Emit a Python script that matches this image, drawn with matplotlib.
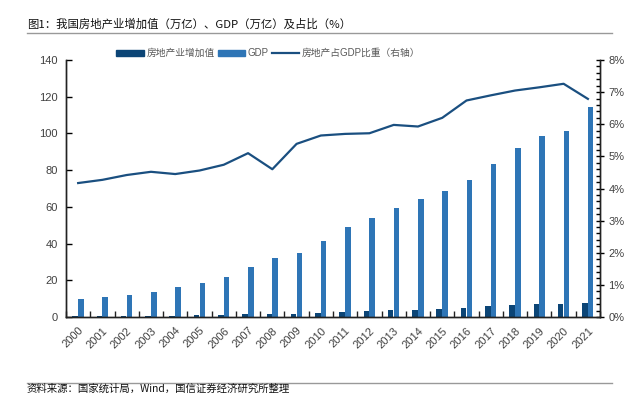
#!/usr/bin/python3

import numpy as np
from matplotlib import pyplot as plt
from matplotlib.lines import Line2D
from matplotlib.patches import Patch
from matplotlib.ticker import MultipleLocator, FixedLocator, PercentFormatter

plt.rcParams['font.family'] = ['Liberation Sans', 'Noto Sans CJK SC', 'DejaVu Sans']

years = [str(y) for y in range(2000, 2022)]
# 房地产业增加值 (万亿)
re_value = [0.41, 0.47, 0.54, 0.62, 0.72, 0.85, 1.04, 1.38, 1.47, 1.89, 2.33,
            2.78, 3.10, 3.57, 3.83, 4.27, 5.03, 5.78, 6.49, 7.07, 7.36, 7.77]
# GDP (万亿)
gdp = [10.0, 11.1, 12.2, 13.7, 16.2, 18.7, 21.9, 27.0, 31.9, 34.9, 41.2,
       48.8, 53.9, 59.3, 64.4, 68.9, 74.6, 83.2, 91.9, 98.7, 101.4, 114.4]
# 房地产占GDP比重 (%)
share = [4.17, 4.27, 4.42, 4.52, 4.45, 4.56, 4.74, 5.10, 4.60, 5.39, 5.65,
         5.70, 5.72, 5.98, 5.93, 6.20, 6.74, 6.90, 7.05, 7.15, 7.26, 6.79]

dark = '#0c4576'
blue = '#2e75b6'
line_c = '#1a4f80'
txt = '#404040'
cjk = ['Noto Sans CJK SC', 'DejaVu Sans']

fig = plt.figure(figsize=(6.39, 3.94), dpi=100)
ax = fig.add_axes([0.1033, 0.1954, 0.8357, 0.6523])
ax2 = ax.twinx()

x = np.arange(len(years))
w = 0.23
ax.bar(x - 0.125, re_value, w, color=dark, zorder=2)
ax.bar(x + 0.115, gdp, w, color=blue, zorder=2)
ax2.plot(x, share, color=line_c, linewidth=1.6)

ax.set_xlim(-0.5, len(years) - 0.5)
ax.set_ylim(0, 140)
ax2.set_ylim(0, 8)

ax.set_yticks(np.arange(0, 141, 20))
ax.set_xticks(x)
ax.set_xticklabels(years, rotation=45, ha='right', rotation_mode='anchor')
ax.xaxis.set_minor_locator(FixedLocator(np.arange(-0.5, len(years), 1)))
ax.tick_params(axis='x', which='major', length=0, pad=6, labelsize=8, labelcolor=txt)
ax.tick_params(axis='x', which='minor', direction='in', length=4, width=1, color='#222222')
ax.tick_params(axis='y', direction='in', length=4, width=1, labelsize=8, labelcolor=txt, pad=6)

ax2.yaxis.set_major_locator(MultipleLocator(1))
ax2.yaxis.set_minor_locator(MultipleLocator(0.2))
ax2.yaxis.set_major_formatter(PercentFormatter(decimals=0))
ax2.tick_params(axis='y', which='major', direction='inout', length=6, width=1, labelsize=8, labelcolor=txt, pad=3)
ax2.tick_params(axis='y', which='minor', direction='in', length=3, width=1)

for a in (ax, ax2):
  a.spines['top'].set_visible(False)
  for s in ('left', 'right', 'bottom'):
    a.spines[s].set_color('#222222')
    a.spines[s].set_linewidth(1)

handles = [Patch(color=dark), Patch(color=blue),
           Line2D([0], [0], color=line_c, linewidth=1.6)]
labels = ['房地产业增加值', 'GDP', '房地产占GDP比重（右轴）']
fig.legend(handles, labels, loc='center', bbox_to_anchor=(0.42, 0.865), ncol=3,
           frameon=False, fontsize=7, labelcolor='#595959', handlelength=2.8,
           handleheight=0.6, handletextpad=0.3, columnspacing=0.3)

fig.text(0.042, 0.938, '图1：我国房地产业增加值（万亿）、GDP（万亿）及占比（%）',
         fontsize=8.2, family=cjk, va='center', color='#111111')
fig.add_artist(Line2D([0.042, 0.958], [0.916, 0.916], color='#999999', linewidth=1))
fig.add_artist(Line2D([0.042, 0.958], [0.028, 0.028], color='#999999', linewidth=1))
fig.text(0.042, 0.014, '资料来源：国家统计局，Wind，国信证券经济研究所整理',
         fontsize=7.5, family=cjk, va='center', color='#111111')

plt.savefig('out.png', dpi=100)
